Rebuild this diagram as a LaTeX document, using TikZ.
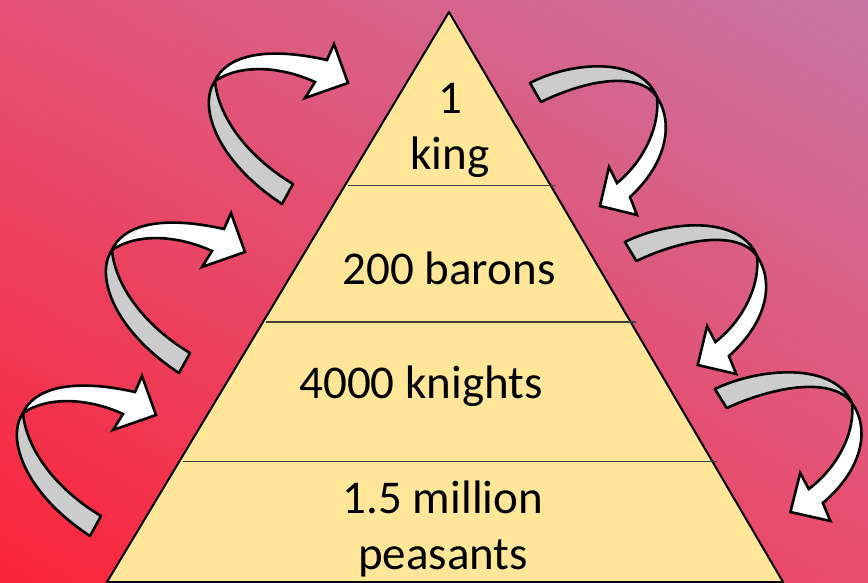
\documentclass[tikz,border=0pt]{standalone}
\usepackage{fontspec}
\setmainfont{Carlito}
\usetikzlibrary{calc,shadings}
\definecolor{bgTL}{HTML}{E55275}
\definecolor{bgTR}{HTML}{C776A4}
\definecolor{bgBL}{HTML}{FA2439}
\definecolor{bgBR}{HTML}{EA4C6C}
\definecolor{tierfill}{HTML}{FFE699}
\definecolor{tiergray}{HTML}{3F3F3F}
\definecolor{bandgray}{HTML}{CCCCCC}
\tikzset{
  tier/.style={fill=tierfill,draw=black,line width=2pt,line join=round},
  tierline/.style={tiergray,line width=1.2pt},
  backband/.style={fill=bandgray,draw=black,line width=2.6pt,line join=round},
  frontband/.style={fill=white,draw=black,line width=2.6pt},
  tiertext/.style={font={\fontsize{47}{56}\selectfont},align=center,anchor=base,inner sep=0pt}
}
% curl going up over the top, head to the right (twist point at #1,#2)
\newcommand{\upcurl}[2]{\begin{scope}[shift={(#1,#2)}]
  \draw[backband] (0,0) .. controls (-17,24) and (0,79) .. (67,123) -- (78,103) .. controls (30,74) and (3,34) .. (0,0) -- cycle;
  \draw[frontband] (0,0) .. controls (10,-23) and (45,-36) .. (112,-21) -- (119,-37) -- (133,2) -- (90,17) -- (100,1) .. controls (65,-15) and (25,-17) .. (0,0) -- cycle;
\end{scope}}
% curl going over to the right and down, head down-left
\newcommand{\downcurl}[3]{\begin{scope}[shift={(#1,#2)},xscale=#3]
  \draw[backband] (-127,-14) .. controls (-87,-35) and (-17,-42) .. (0,0) .. controls (-17,-25) and (-67,-19) .. (-116,5) -- cycle;
  \draw[frontband] (0,0) .. controls (18,28) and (8,68) .. (-27,100) -- (-20,118) -- (-57,109) -- (-48,70) -- (-40,86) .. controls (-12,63) and (3,28) .. (0,0) -- cycle;
\end{scope}}

\begin{document}
\begin{tikzpicture}[x=1pt,y=-1pt]
\useasboundingbox (0,0) rectangle (868,582);
\shade[upper left=bgTL,upper right=bgTR,lower left=bgBL,lower right=bgBR] (0,0) rectangle (868,582);

% pyramid
\coordinate (apex) at (449,12);
\coordinate (bl) at (107,582);
\coordinate (br) at (783,582);
\draw[tier] (apex) -- (br) -- (bl) -- cycle;
\foreach \t/\lv in {0.305/a,0.544/b,0.788/c}{
  \coordinate (l\lv) at ($(apex)!\t!(bl)+(3,0)$);
  \coordinate (r\lv) at ($(apex)!\t!(br)+(5,0)$);
  \draw[tierline] (l\lv) -- (r\lv);}

\node[tiertext] (king) at (450,169) {1\\king};
\node[tiertext] (barons) at (449,284) {200 barons};
\node[tiertext] (knights) at (421,398) {4000 knights};
\node[tiertext] (peasants) at (443,569) {1.5 million\\peasants};

% curls
\foreach \tx/\ty in {215/81,112/250,23/413}{\upcurl{\tx}{\ty}}
\foreach \tx/\ty/\sx in {657/97/1,757/256/1.04,852/403/1.08}{\downcurl{\tx}{\ty}{\sx}}
\end{tikzpicture}
\end{document}
